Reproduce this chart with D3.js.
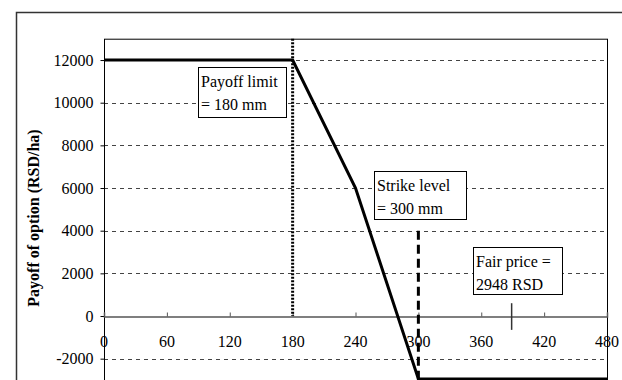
<!DOCTYPE html>
<html><head><meta charset="utf-8">
<script src="https://cdn.jsdelivr.net/npm/d3@7"></script>
<style>body{margin:0;background:#fff}svg{display:block}</style>
</head><body>
<script>
const rainfall = [0, 180, 240, 300, 480];
const payoff = [12000, 12000, 6000, -2948, -2948];
const xTicks = [0, 60, 120, 180, 240, 300, 360, 420, 480];
const yTicks = [-2000, 0, 2000, 4000, 6000, 8000, 10000, 12000];
const payoffLimit = 180, strikeLevel = 300, fairPriceMark = 389;
const yTitle = "Payoff of option (RSD/ha)";
const notes = [
  {lines:["Payoff limit", "= 180 mm"], x:180, y:12000},
  {lines:["Strike level", "= 300 mm"], x:300, y:6000},
  {lines:["Fair price =", "2948 RSD"], x:389, y:2948}
];

const W = 622, H = 380;
const svg = d3.select("body").append("svg").attr("width", W).attr("height", H);
const font = "'Liberation Serif','Times New Roman',serif";
const fs = 16;
const x = d3.scaleLinear().domain([0, 480]).range([104, 607]);
const y = d3.scaleLinear().domain([-3000, 13000]).range([380, 38.7]);

// outer frame
svg.append("path").attr("d", `M16.5,${H+2} V12.5 H${W+2}`).attr("fill","none").attr("stroke","#333").attr("stroke-width",1.5);

// gridlines
svg.append("g").selectAll("line").data(yTicks.filter(d => d !== 0)).join("line")
  .attr("x1", x(0)).attr("x2", x(480)).attr("y1", d => Math.round(y(d))+0.5).attr("y2", d => Math.round(y(d))+0.5)
  .attr("stroke", "#444").attr("stroke-width", 1).attr("stroke-dasharray", "4,4");

// plot border
svg.append("rect").attr("x", x(0)+0.5).attr("y", y(13000)+0.5).attr("width", x(480)-x(0)).attr("height", y(-3000)-y(13000)+5)
  .attr("fill","none").attr("stroke","#000").attr("stroke-width",1);

// y axis
const yAxis = svg.append("g").attr("transform", `translate(${x(0)+0.5},0)`)
  .call(d3.axisLeft(y).tickValues(yTicks).tickSize(4).tickPadding(7).tickFormat(d => String(d)));
yAxis.select(".domain").remove();
yAxis.selectAll("text").attr("font-family", font).attr("font-size", fs).attr("fill","#000");
yAxis.selectAll("line").attr("stroke","#000");

// x axis on zero line
const xAxis = svg.append("g").attr("transform", `translate(0,${Math.round(y(0))+0.5})`)
  .call(d3.axisTop(x).tickValues(xTicks).tickSize(4).tickFormat(""));
xAxis.select(".domain").attr("stroke","#555").attr("stroke-width",1.5);
xAxis.selectAll("line").attr("stroke","#555");
svg.append("g").selectAll("text").data(xTicks).join("text")
  .attr("x", d => x(d)).attr("y", y(0)+31).attr("text-anchor","middle")
  .attr("font-family", font).attr("font-size", fs).text(d => String(d));

// vertical reference lines
svg.append("line").attr("x1", x(payoffLimit)).attr("x2", x(payoffLimit)).attr("y1", y(13000)).attr("y2", y(0))
  .attr("stroke","#000").attr("stroke-width",3).attr("stroke-dasharray","2,1.5");
svg.append("line").attr("x1", x(strikeLevel)).attr("x2", x(strikeLevel)).attr("y1", y(4000)).attr("y2", H)
  .attr("stroke","#000").attr("stroke-width",3).attr("stroke-dasharray","9,5");
svg.append("line").attr("x1", x(fairPriceMark)).attr("x2", x(fairPriceMark)).attr("y1", y(600)).attr("y2", y(-650))
  .attr("stroke","#333").attr("stroke-width",1.5);

// payoff line
svg.append("path").datum(rainfall.map((r,i) => [r, payoff[i]]))
  .attr("d", d3.line().x(d => x(d[0])).y(d => y(d[1])))
  .attr("fill","none").attr("stroke","#000").attr("stroke-width",3).attr("stroke-linejoin","miter");

// annotation boxes
const boxes = [
  {x0:198, y0:67, w:88, h:50},
  {x0:374, y0:171, w:92, h:48},
  {x0:473, y0:247, w:89, h:47}
];
notes.forEach((n, i) => {
  const b = boxes[i];
  const g = svg.append("g");
  g.append("rect").attr("x", b.x0+0.5).attr("y", b.y0+0.5).attr("width", b.w).attr("height", b.h)
    .attr("fill","#fff").attr("stroke","#000").attr("stroke-width",1);
  n.lines.forEach((t, j) => {
    g.append("text").attr("x", b.x0+3).attr("y", b.y0+20+j*23)
      .attr("font-family", font).attr("font-size", fs).text(t);
  });
});

// y title
svg.append("text").attr("transform", `translate(39,218) rotate(-90)`).attr("text-anchor","middle")
  .attr("font-family", font).attr("font-size", fs).attr("font-weight","bold").text(yTitle);
</script>
</body></html>
